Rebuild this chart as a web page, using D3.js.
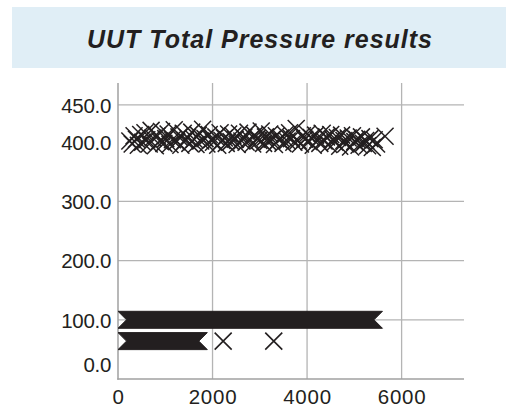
<!DOCTYPE html>
<html>
<head>
<meta charset="utf-8">
<script src="https://cdn.jsdelivr.net/npm/d3@7"></script>
<style>
  html, body { margin: 0; padding: 0; background: #ffffff; }
  svg { display: block; }
</style>
</head>
<body>
<svg id="chart" width="506" height="410"></svg>
<script>
// ---------------- data ----------------
const title = "UUT Total Pressure results";

// scattered readings around 400
const clusterX = [
  250, 300, 340, 390, 430, 480, 520, 570, 610, 660,
  700, 740, 790, 830, 880, 920, 970, 1010, 1060, 1100,
  1150, 1190, 1240, 1290, 1330, 1380, 1420, 1470, 1520, 1560,
  1610, 1650, 1700, 1750, 1790, 1840, 1880, 1930, 1980, 2020,
  2070, 2110, 2160, 2200, 2250, 2290, 2340, 2390, 2430, 2480,
  2520, 2570, 2620, 2660, 2710, 2750, 2800, 2850, 2890, 2940,
  2980, 3030, 3080, 3120, 3170, 3210, 3260, 3310, 3350, 3400,
  3440, 3490, 3540, 3580, 3630, 3670, 3720, 3770, 3810, 3860,
  3900, 3950, 4000, 4040, 4090, 4130, 4180, 4230, 4270, 4320,
  4360, 4410, 4460, 4500, 4550, 4590, 4640, 4690, 4730, 4780,
  4820, 4870, 4920, 4960, 5010, 5050, 5100, 5150, 5190, 5240,
  5280, 5330, 5380, 5420, 5470, 5650
];
const clusterY = [
  402, 397, 411, 405, 395, 413, 400, 416, 404, 397,
  420, 407, 394, 411, 402, 418, 398, 406, 414, 396,
  404, 421, 401, 409, 395, 415, 403, 408, 398, 417,
  405, 396, 412, 402, 422, 406, 397, 413, 404, 400,
  409, 395, 416, 403, 407, 398, 414, 401, 411, 405,
  396, 415, 402, 408, 400, 417, 404, 397, 412, 406,
  403, 419, 398, 409, 401, 414, 405, 396, 411, 404,
  407, 398, 413, 402, 416, 406, 400, 423, 403, 397,
  411, 405, 414, 401, 408, 395, 412, 404, 398, 415,
  402, 409, 396, 413, 405, 400, 408, 393, 412, 403,
  397, 407, 392, 411, 401, 405, 395, 409, 398, 403,
  394, 406, 391, 404, 397, 410
];

// runs of densely packed readings at a constant value (start, end, value)
const runStart = [180, 180];
const runEnd   = [5415, 1710];
const runValue = [100, 64];

// isolated readings
const singleX = [2225, 3295];
const singleY = [64, 64];

// axes
const xDomain = [0, 7320];
const yDomain = [0, 500];
const xTicks = [0, 2000, 4000, 6000];
const xGrid = [2000, 4000, 6000];
const yTickValues = [25, 100, 200, 300, 400, 463];
const yTickLabels = ["0.0", "100.0", "200.0", "300.0", "400.0", "450.0"];
const yGrid = [100, 200, 300, 463];

// ---------------- drawing ----------------
const svg = d3.select("#chart");
const W = 506, H = 410;
const plot = { left: 118, right: 464, top: 83, bottom: 379 };

const x = d3.scaleLinear().domain(xDomain).range([plot.left, plot.right]);
const y = d3.scaleLinear().domain(yDomain).range([plot.bottom, plot.top]);

const ink = "#231f20";
const gridCol = "#b4b4b4";
const axisCol = "#a0a0a0";

// title band
svg.append("rect")
  .attr("x", 12).attr("y", 7).attr("width", W - 12).attr("height", 61)
  .attr("fill", "#e0eef6");
svg.append("text")
  .attr("x", 260).attr("y", 48)
  .attr("text-anchor", "middle")
  .attr("font-family", "'Liberation Sans', Arial, sans-serif")
  .attr("font-size", 25).attr("font-weight", "bold").attr("font-style", "italic")
  .attr("letter-spacing", 1)
  .attr("fill", ink)
  .text(title);

// gridlines
const g = svg.append("g");
g.selectAll("line.hg").data(yGrid).join("line")
  .attr("class", "hg")
  .attr("x1", plot.left).attr("x2", plot.right)
  .attr("y1", d => y(d)).attr("y2", d => y(d))
  .attr("stroke", gridCol).attr("stroke-width", 1.3);
g.selectAll("line.vg").data(xGrid).join("line")
  .attr("class", "vg")
  .attr("y1", plot.top).attr("y2", plot.bottom)
  .attr("x1", d => x(d)).attr("x2", d => x(d))
  .attr("stroke", gridCol).attr("stroke-width", 1.3);

// axes lines
g.append("line").attr("x1", plot.left).attr("x2", plot.left)
  .attr("y1", plot.top).attr("y2", plot.bottom + 0.7)
  .attr("stroke", axisCol).attr("stroke-width", 1.5);
g.append("line").attr("x1", plot.left - 0.7).attr("x2", plot.right)
  .attr("y1", plot.bottom).attr("y2", plot.bottom)
  .attr("stroke", axisCol).attr("stroke-width", 1.5);

// axis labels via d3 axes (no tick marks, no domain)
const fontFam = "'Liberation Sans', Arial, sans-serif";
const yAxis = d3.axisLeft(y).tickValues(yTickValues)
  .tickFormat((d, i) => yTickLabels[i]).tickSize(0).tickPadding(7);
const ya = svg.append("g").attr("transform", `translate(${plot.left},0)`).call(yAxis);
ya.select(".domain").remove();
ya.selectAll("text").attr("font-family", fontFam).attr("font-size", 20.5)
  .attr("letter-spacing", -0.3).attr("fill", ink).attr("dy", "0.36em");

const xAxis = d3.axisBottom(x).tickValues(xTicks).tickFormat(d3.format("d"))
  .tickSize(0).tickPadding(10);
const xa = svg.append("g").attr("transform", `translate(0,${plot.bottom})`).call(xAxis);
xa.select(".domain").remove();
xa.selectAll("text").attr("font-family", fontFam).attr("font-size", 20.5)
  .attr("letter-spacing", 0.8).attr("fill", ink).attr("dy", "0.71em");

// markers
const h = 8.5;
const xMark = `M${-h},${-h}L${h},${h}M${-h},${h}L${h},${-h}`;

svg.append("clipPath").attr("id", "pc").append("rect")
  .attr("x", plot.left).attr("y", plot.top - 20)
  .attr("width", W - plot.left).attr("height", plot.bottom - plot.top + 20);

const marks = svg.append("g").attr("clip-path", "url(#pc)");

// dense runs drawn as the union outline of packed X markers
const runs = runStart.map((s, i) => ({ s, e: runEnd[i], v: runValue[i] }));
marks.selectAll("path.run").data(runs).join("path")
  .attr("class", "run")
  .attr("d", d => {
    const xs = x(d.s), xe = x(d.e), yc = y(d.v);
    return d3.line()([
      [xs - h, yc - h], [xe + h, yc - h], [xe, yc],
      [xe + h, yc + h], [xs - h, yc + h], [xs, yc]
    ]) + "Z";
  })
  .attr("fill", ink).attr("stroke", ink).attr("stroke-width", 1)
  .attr("stroke-linejoin", "miter");

const cluster = clusterX.map((cx, i) => ({ cx, cy: clusterY[i] }));
marks.selectAll("path.cl").data(cluster).join("path")
  .attr("class", "cl")
  .attr("transform", d => `translate(${x(d.cx)},${y(d.cy)})`)
  .attr("d", xMark)
  .attr("fill", "none").attr("stroke", ink).attr("stroke-width", 1.5);

const singles = singleX.map((cx, i) => ({ cx, cy: singleY[i] }));
marks.selectAll("path.sg").data(singles).join("path")
  .attr("class", "sg")
  .attr("transform", d => `translate(${x(d.cx)},${y(d.cy)})`)
  .attr("d", xMark)
  .attr("fill", "none").attr("stroke", ink).attr("stroke-width", 1.6);
</script>
</body>
</html>
